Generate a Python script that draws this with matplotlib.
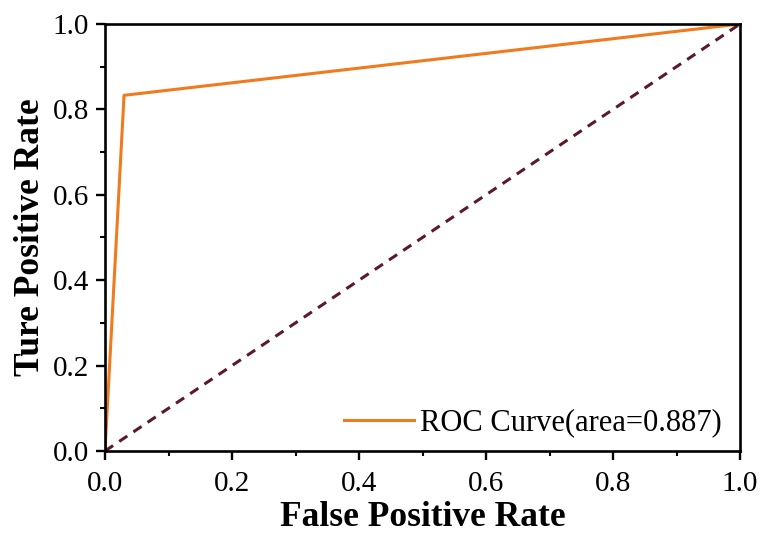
import matplotlib
matplotlib.use("Agg")
import matplotlib.pyplot as plt
from matplotlib.ticker import MultipleLocator

# ROC operating points
fpr = [0.0, 0.03, 1.0]
tpr = [0.0, 0.833, 1.0]
chance_x = [0.0, 1.0]
chance_y = [0.0, 1.0]
roc_label = "ROC Curve(area=0.887)"
tick_values = [0.0, 0.2, 0.4, 0.6, 0.8, 1.0]
tick_labels = ["0.0", "0.2", "0.4", "0.6", "0.8", "1.0"]

plt.rcParams["font.family"] = ["Liberation Serif", "DejaVu Serif"]

fig = plt.figure(figsize=(7.61, 5.33), dpi=100)
ax = fig.add_axes([105 / 761, 1 - 451 / 533, 635 / 761, 427 / 533])

ax.plot(fpr, tpr, color="#f07a1e", lw=2.2, label=roc_label, zorder=2)
ax.plot(chance_x, chance_y, color="#5a1a28", lw=2.2, ls=(0, (3.2, 2.4)), zorder=2)

ax.set_xlim(0, 1)
ax.set_ylim(0, 1)
ax.set_xticks(tick_values)
ax.set_xticklabels(tick_labels)
ax.set_yticks(tick_values)
ax.set_yticklabels(tick_labels)
ax.xaxis.set_minor_locator(MultipleLocator(0.1))
ax.yaxis.set_minor_locator(MultipleLocator(0.1))

ax.tick_params(axis="both", which="major", direction="out", length=6.5, width=1.7,
               labelsize=21, top=False, right=False)
ax.tick_params(axis="x", which="major", pad=8)
ax.tick_params(axis="y", which="major", pad=5)
ax.tick_params(axis="both", which="minor", direction="out", length=3.6, width=1.5,
               top=False, right=False)
for s in ax.spines.values():
    s.set_linewidth(1.9)

ax.set_xlabel("False Positive Rate", fontsize=25.5, fontweight="bold", labelpad=3)
ax.set_ylabel("Ture Positive Rate", fontsize=25.5, fontweight="bold", labelpad=4)

ax.legend(loc="center right", bbox_to_anchor=(0.972, 0.066), frameon=False,
          fontsize=22, handlelength=2.3, handletextpad=0.2, borderpad=0,
          borderaxespad=0)

fig.savefig("out.png", dpi=100)
